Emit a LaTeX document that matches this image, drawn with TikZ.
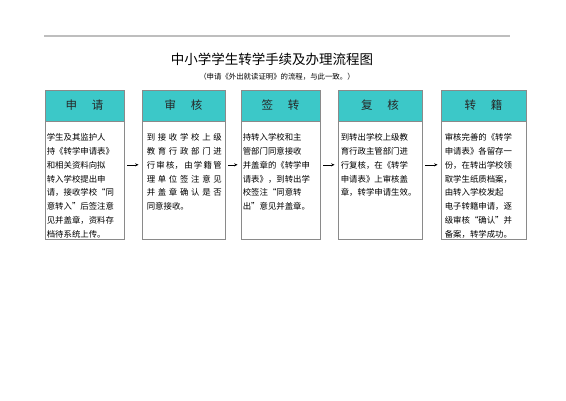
\documentclass[tikz,border=0pt]{standalone}
\usepackage{fontspec}
\setmainfont{Noto Sans CJK SC}
\usetikzlibrary{arrows.meta,calc,positioning}
\definecolor{headfill}{RGB}{60,200,200}
\definecolor{boxline}{RGB}{138,138,138}
\definecolor{rulegray}{RGB}{190,190,190}
\tikzset{
  head/.style={draw=boxline, line width=0.8pt, fill=headfill, minimum height=31pt, inner sep=0pt,
    font=\fontsize{11.5}{12}\selectfont, text=black!85},
  bodybox/.style={draw=boxline, line width=0.8pt, minimum height=118pt, inner sep=0pt},
  bodytext/.style={anchor=north west, inner sep=0pt, align=left,
    font=\fontsize{8.4}{13.8}\selectfont},
  arr/.style={line width=0.6pt, -{Stealth[length=3.5pt,width=3pt]}},
}
\newcommand\hsep{\hspace{1.3em}}
\begin{document}
\begin{tikzpicture}[x=1pt,y=-1pt]
\useasboundingbox (0,0) rectangle (566,400);
% top rule
\coordinate (rl) at (44,36);
\coordinate (rr) at (510,36);
\draw[rulegray, line width=1.5pt] (rl) -- (rr);
% titles
\node[font=\fontsize{13.5}{14}\selectfont, inner sep=0pt] (title) at (272,59) {中小学学生转学手续及办理流程图};
\node[font=\fontsize{7.4}{8}\selectfont, inner sep=0pt] (sub) at (277,77) {（申请《外出就读证明》的流程，与此一致。）};
% headers
\node[head, minimum width=79pt] (h1) at (84.5,105.5) {申\hsep 请};
\node[head, minimum width=83pt] (h2) at (183.5,105.5) {审\hsep 核};
\node[head, minimum width=79pt] (h3) at (280.5,105.5) {签\hsep 转};
\node[head, minimum width=84pt] (h4) at (380,105.5) {复\hsep 核};
\node[head, minimum width=85pt] (h5) at (483.5,105.5) {转\hsep 籍};
% bodies
\node[bodybox, minimum width=79pt, below=0pt of h1] (b1) {};
\node[bodybox, minimum width=83pt, below=0pt of h2] (b2) {};
\node[bodybox, minimum width=79pt, below=0pt of h3] (b3) {};
\node[bodybox, minimum width=84pt, below=0pt of h4] (b4) {};
\node[bodybox, minimum width=85pt, below=0pt of h5] (b5) {};
% texts
\node[bodytext] (t1) at ($(b1.north west)+(2,12)$) {学生及其监护人\\持《转学申请表》\\和相关资料向拟\\转入学校提出申\\请，接收学校“同\\意转入”后签注意\\见并盖章，资料存\\档待系统上传。};
\node[bodytext] (t2) at ($(b2.north west)+(5,12)$) {%
\hbox to 75pt{到\hfill 接\hfill 收\hfill 学\hfill 校\hfill 上\hfill 级}\\
\hbox to 75pt{教\hfill 育\hfill 行\hfill 政\hfill 部\hfill 门\hfill 进}\\
\hbox to 75pt{行\hfill 审\hfill 核，\hfill 由\hfill 学\hfill 籍\hfill 管}\\
\hbox to 75pt{理\hfill 单\hfill 位\hfill 签\hfill 注\hfill 意\hfill 见}\\
\hbox to 75pt{并\hfill 盖\hfill 章\hfill 确\hfill 认\hfill 是\hfill 否}\\
同意接收。};
\node[bodytext] (t3) at ($(b3.north west)+(2,12)$) {持转入学校和主\\管部门同意接收\\并盖章的《转学申\\请表》，到转出学\\校签注“同意转\\出”意见并盖章。};
\node[bodytext] (t4) at ($(b4.north west)+(3,12)$) {到转出学校上级教\\育行政主管部门进\\行复核，在《转学\\申请表》上审核盖\\章，转学申请生效。};
\node[bodytext] (t5) at ($(b5.north west)+(4,12)$) {审核完善的《转学\\申请表》各留存一\\份，在转出学校领\\取学生纸质档案，\\由转入学校发起\\电子转籍申请，逐\\级审核“确认”并\\备案，转学成功。};
% arrows
\draw[arr] ($(b1.east)+(3,-16)$) -- ($(b2.west)+(-3,-16)$);
\draw[arr] ($(b2.east)+(3,-16)$) -- ($(b3.west)+(-3,-16)$);
\draw[arr] ($(b3.east)+(3,-16)$) -- ($(b4.west)+(-3,-16)$);
\draw[arr] ($(b4.east)+(3,-16)$) -- ($(b5.west)+(-3,-16)$);
\end{tikzpicture}
\end{document}
